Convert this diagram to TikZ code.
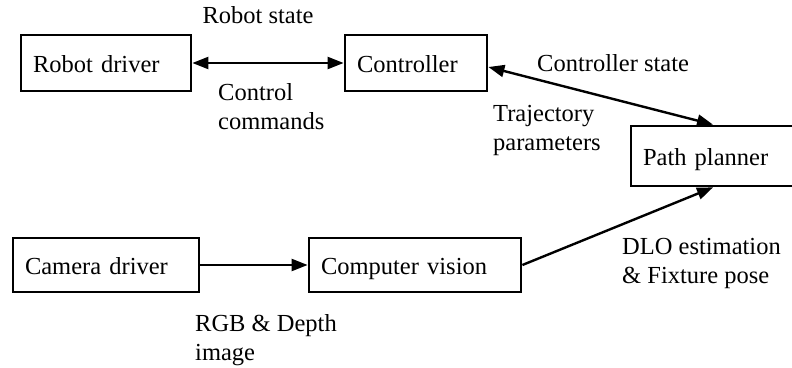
\documentclass[tikz,border=0pt]{standalone}
\usepackage{fontspec}
\setmainfont{Liberation Serif}
\usetikzlibrary{arrows.meta,calc}
\begin{document}
\begin{tikzpicture}[x=1pt,y=-1pt,
  font=\fontsize{24.5}{28.5}\selectfont,
  block/.style={draw,line width=2.8pt,minimum height=56pt,inner xsep=12pt,
    align=left,text height=18pt,text depth=0pt},
  lbl/.style={inner sep=0pt,align=left,anchor=base west},
  link/.style={line width=2.4pt,-{Triangle[length=16pt,width=12pt]}},
  biglink/.style={line width=2.4pt,{Triangle[length=16pt,width=12pt]}-{Triangle[length=16pt,width=12pt]}}]
  \clip (0,0) rectangle (792,367);
  % processing blocks
  \node[block,text width=146pt] (robot) at (106,63) {Robot driver};
  \node[block,text width=118pt] (ctrl) at (416,63) {Controller};
  \node[block,text width=140pt,minimum height=60pt] (planner) at (713,156) {Path planner};
  \node[block,text width=162pt,minimum height=54pt] (camera) at (106,265) {Camera driver};
  \node[block,text width=188pt,minimum height=54pt] (vision) at (415,265) {Computer vision};
  % connectors
  \draw[biglink] (robot) -- (ctrl);
  \coordinate (ctrlout) at ($(ctrl.east)+(0,4)$);
  \draw[biglink] (ctrlout) -- (planner.north);
  \draw[link] (camera) -- (vision);
  \draw[link] (vision.east) -- (planner.south);
  % signal labels (anchored at the baseline of their last line)
  \node[inner sep=0pt,anchor=base] (lrs) at (258,23) {Robot state};
  \node[lbl] (lcc) at (218,129) {Control\\commands};
  \node[lbl] (lcs) at (537,71) {Controller state};
  \node[lbl] (ltp) at (493,150) {Trajectory\\parameters};
  \node[lbl] (ldlo) at (622,283) {DLO estimation\\\& Fixture pose};
  \node[lbl] (lrgb) at (195,360) {RGB \& Depth\\image};
\end{tikzpicture}
\end{document}
